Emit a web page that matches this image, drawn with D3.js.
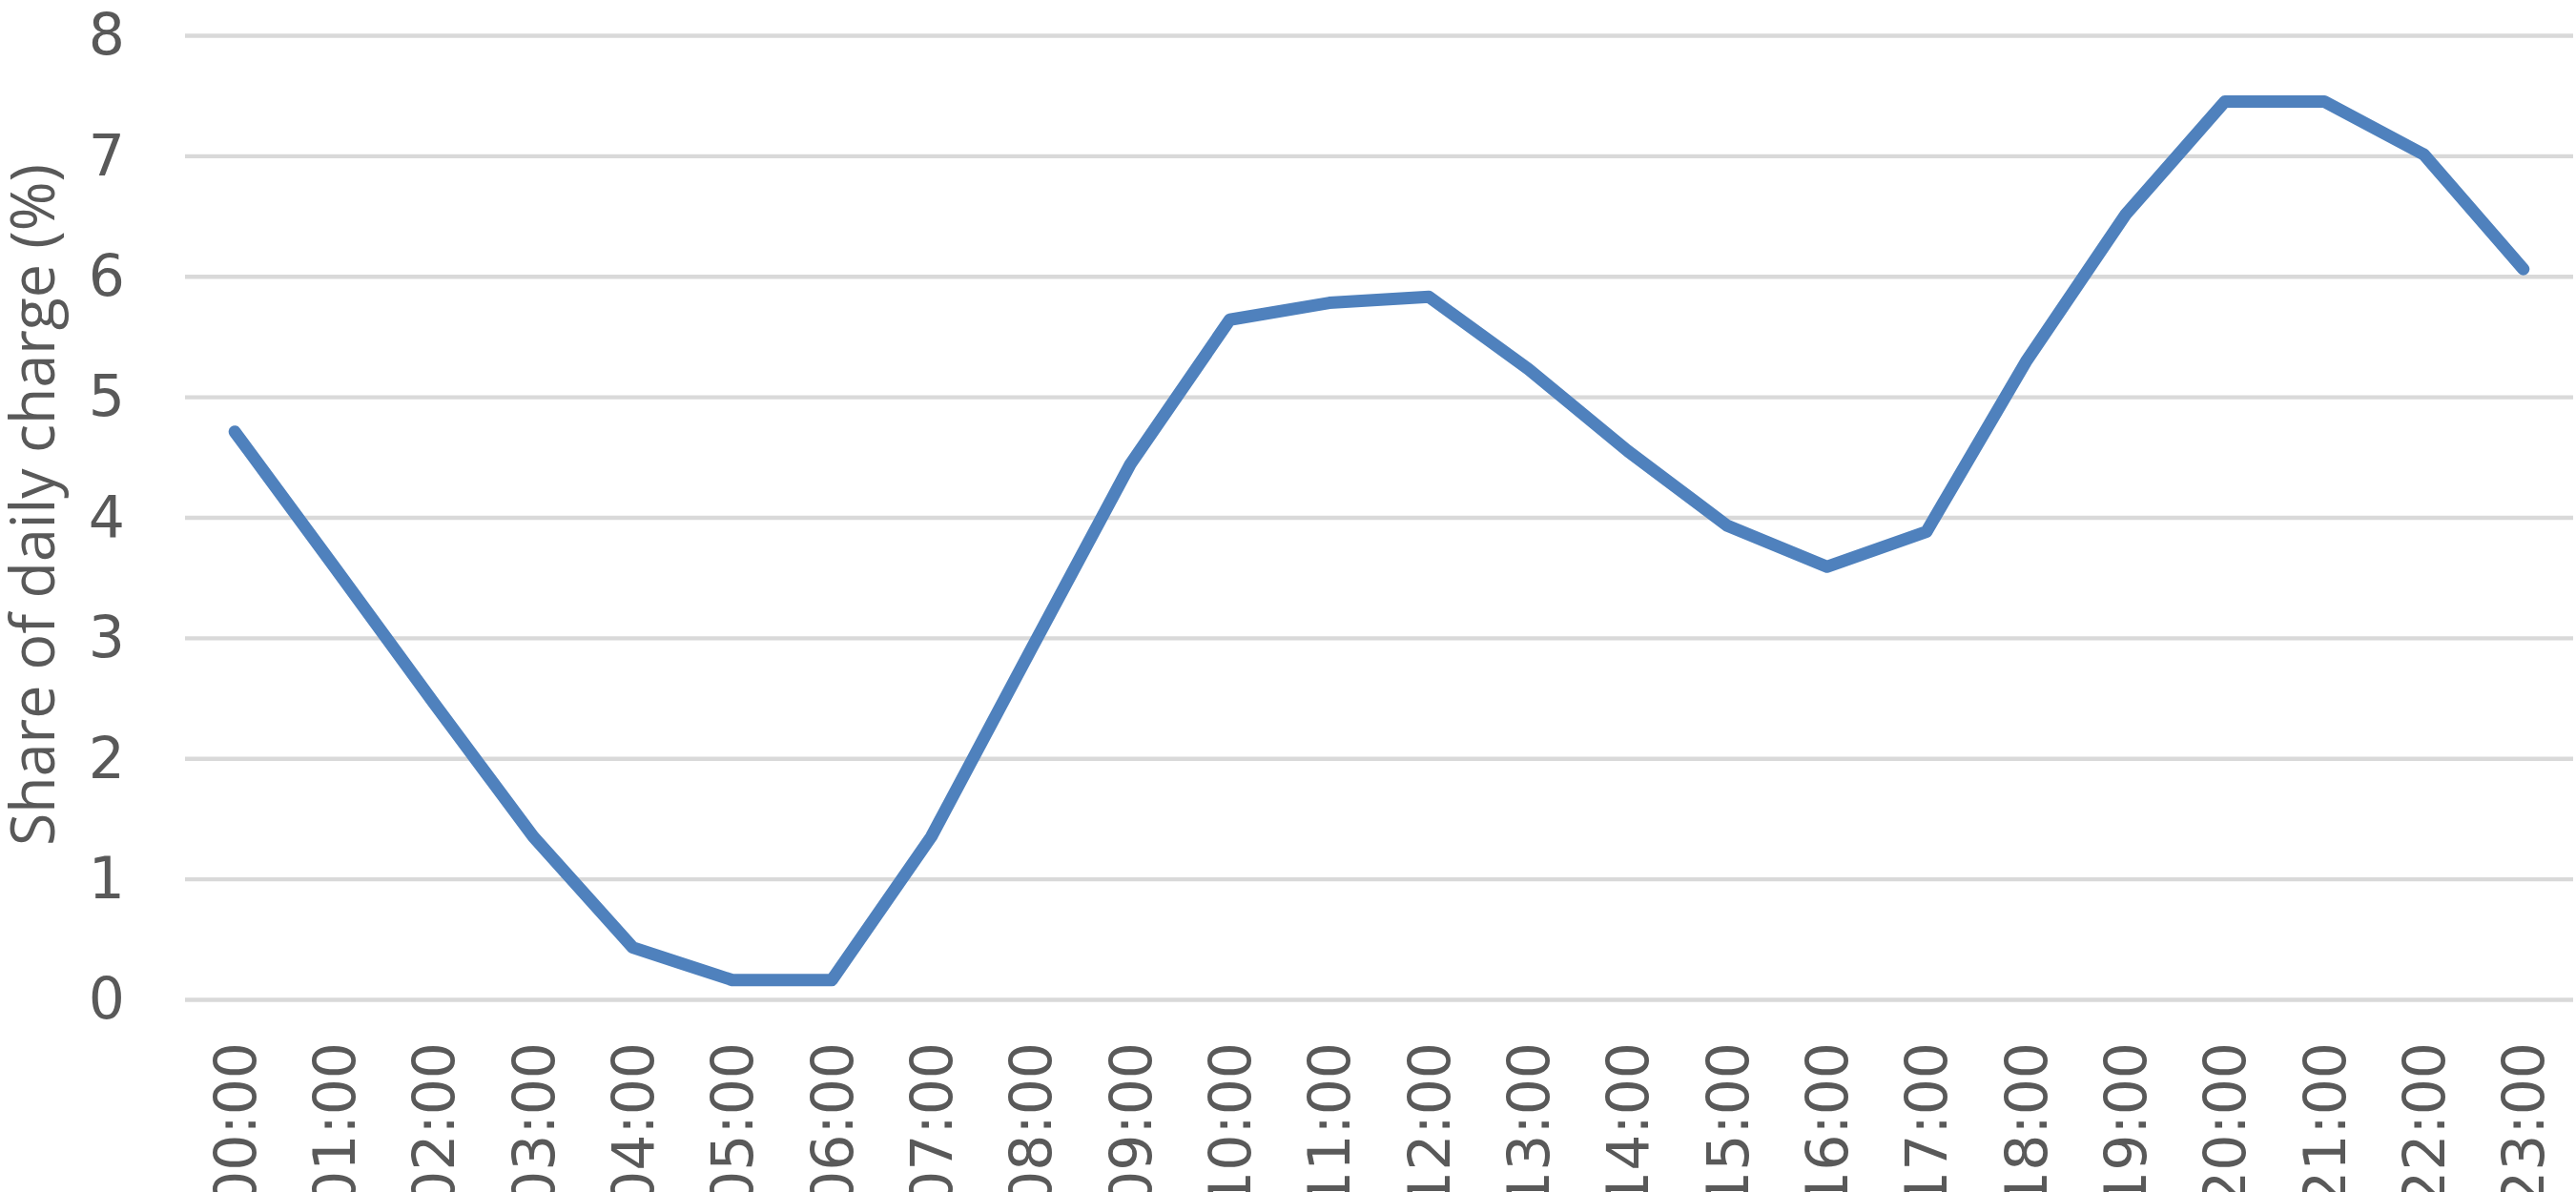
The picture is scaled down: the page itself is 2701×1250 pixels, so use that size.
<!DOCTYPE html>
<html>
<head>
<meta charset="utf-8">
<script src="https://cdn.jsdelivr.net/npm/d3@7"></script>
<style>
  html, body { margin: 0; padding: 0; background: #ffffff; overflow: hidden; }
  svg { display: block; }
</style>
</head>
<body>
<svg id="chart" width="2701" height="1250"></svg>
<script>
// ---- data ----
const hours = ["00:00","01:00","02:00","03:00","04:00","05:00","06:00","07:00","08:00","09:00","10:00","11:00",
               "12:00","13:00","14:00","15:00","16:00","17:00","18:00","19:00","20:00","21:00","22:00","23:00"];
const shareOfCharge = [4.71, 3.59, 2.46, 1.35, 0.43, 0.16, 0.16, 1.35, 2.90, 4.44, 5.64, 5.78,
                       5.83, 5.23, 4.55, 3.93, 3.59, 3.88, 5.29, 6.51, 7.45, 7.45, 7.01, 6.06];
const yTicks = [0, 1, 2, 3, 4, 5, 6, 7, 8];
const yTitle = "Share of daily charge (%)";

// ---- layout ----
const svg = d3.select("#chart");
const plotLeft = 194, plotRight = 2698, plotTop = 37, plotBottom = 1048;

const x = d3.scaleBand().domain(hours).range([plotLeft, plotRight]).paddingInner(0).paddingOuter(0);
const y = d3.scaleLinear().domain([0, 8]).range([plotBottom, plotTop]);

const textColor = "#595959";
const tickFont = "'DejaVu Sans', Verdana, sans-serif";
const tickSize = 60;

// gridlines via axis
const gridAxis = d3.axisLeft(y).tickValues(yTicks).tickSize(-(plotRight - plotLeft)).tickFormat("");
const grid = svg.append("g").attr("transform", `translate(${plotLeft},0)`).call(gridAxis);
grid.select(".domain").remove();
grid.selectAll(".tick line").attr("stroke", "#d9d9d9").attr("stroke-width", 4.3);

// y tick labels
const yAxis = d3.axisLeft(y).tickValues(yTicks).tickSize(0).tickPadding(0).tickFormat(d3.format("d"));
const yg = svg.append("g").attr("transform", `translate(131,0)`).call(yAxis);
yg.select(".domain").remove();
yg.selectAll(".tick text")
  .attr("fill", textColor)
  .attr("font-family", tickFont)
  .attr("font-size", tickSize)
  .attr("dy", "0.33em");

// x tick labels (rotated)
const xAxis = d3.axisBottom(x).tickSize(0).tickPadding(0);
const xg = svg.append("g").attr("transform", `translate(0,1093)`).call(xAxis);
xg.select(".domain").remove();
xg.selectAll(".tick text")
  .attr("fill", textColor)
  .attr("font-family", tickFont)
  .attr("font-size", tickSize)
  .attr("text-anchor", "end")
  .attr("transform", "rotate(-90)")
  .attr("x", 0)
  .attr("y", 0)
  .attr("dy", "0.36em");

// y axis title
svg.append("text")
  .attr("transform", `translate(57,${(172 + 887) / 2}) rotate(-90)`)
  .attr("text-anchor", "middle")
  .attr("fill", textColor)
  .attr("font-family", "'Liberation Sans Narrow', 'Open Sans', sans-serif")
  .attr("font-size", 64)
  .attr("textLength", 715)
  .attr("lengthAdjust", "spacingAndGlyphs")
  .text(yTitle);

// line
const line = d3.line()
  .x((d, i) => x(hours[i]) + x.bandwidth() / 2)
  .y(d => y(d));

svg.append("path")
  .datum(shareOfCharge)
  .attr("d", line)
  .attr("fill", "none")
  .attr("stroke", "#4f81bd")
  .attr("stroke-width", 13)
  .attr("stroke-linecap", "round")
  .attr("stroke-linejoin", "round");
</script>
</body>
</html>
